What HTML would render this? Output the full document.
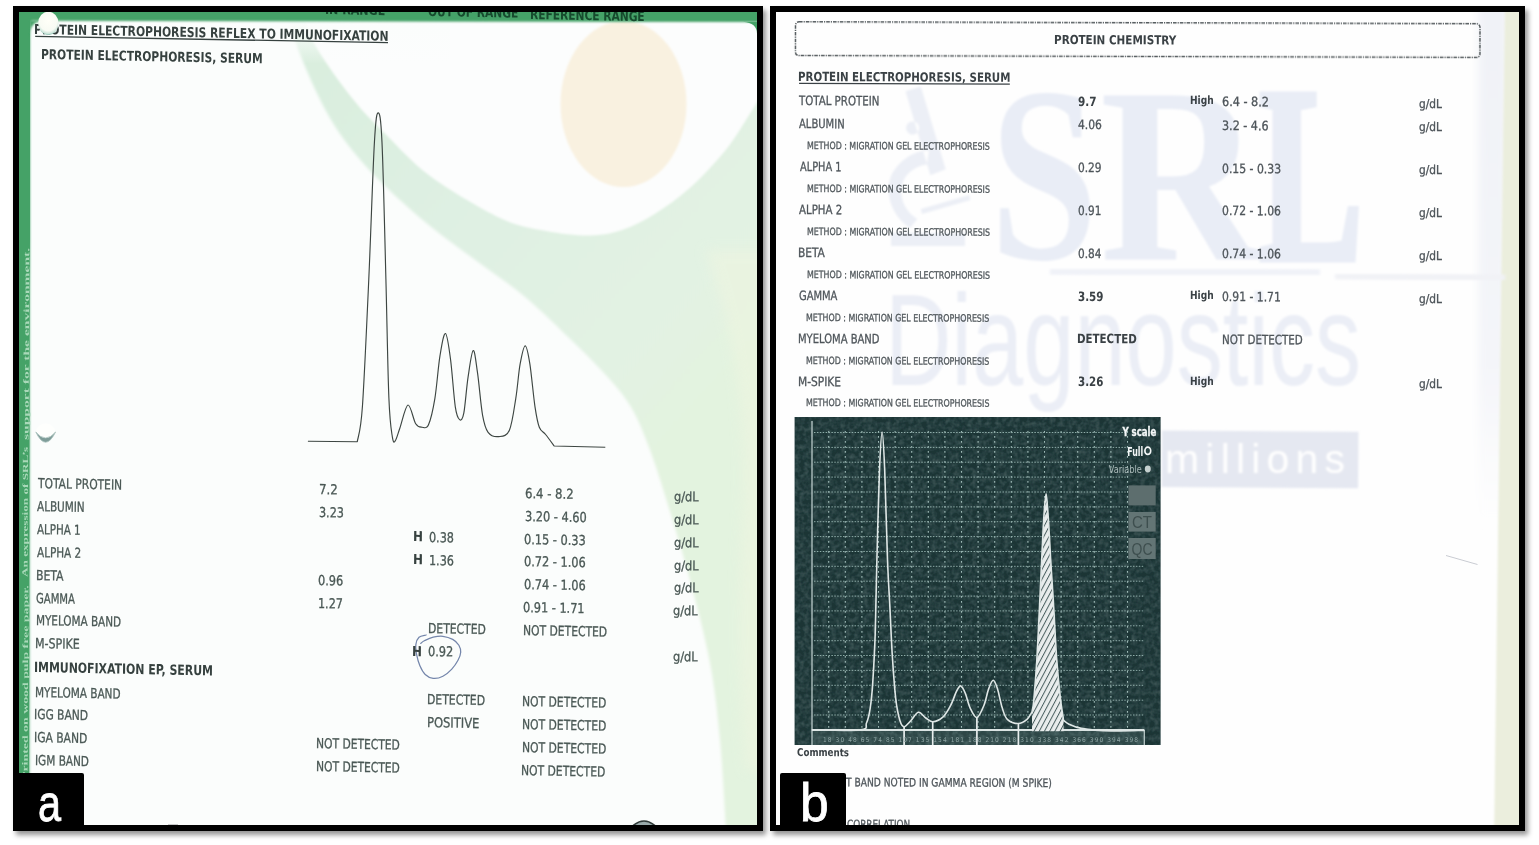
<!DOCTYPE html>
<html lang="en">
<head>
<meta charset="utf-8">
<title>Protein electrophoresis reports</title>
<style>
html,body{margin:0;padding:0;background:#fff}
body{width:1539px;height:845px;position:relative;overflow:hidden;font-family:"DejaVu Sans Condensed","DejaVu Sans","Liberation Sans",sans-serif}
.panel{position:absolute;top:6px;height:813px;border:6px solid #000;box-shadow:3px 4px 5px rgba(0,0,0,.42);overflow:hidden;background:#fbfdfc}
#pa{left:13px;width:738px}
#pb{left:770px;width:743px;background:#fefefe}
.page{position:absolute;width:1539px;height:845px;top:-12px}
#pa .page{left:-19px}
#pb .page{left:-776px}
.page svg{position:absolute;left:0;top:0}
.t{position:absolute;white-space:pre;line-height:1;transform-origin:0 0.846em;font-weight:normal;-webkit-text-stroke:.3px currentColor}
.b{font-weight:bold;-webkit-text-stroke:0}
.txt{position:absolute;left:0;top:0;width:100%;height:100%;filter:blur(.4px)}
.v{position:absolute;white-space:pre;line-height:1;font-family:"Liberation Serif",serif;font-weight:bold;color:#a9d9b9;transform-origin:0 0}
.lab{position:absolute;background:#000;color:#fff;font-family:"Liberation Sans",sans-serif;border-radius:2px}
.lab span{position:absolute;line-height:1;transform-origin:0 0}
</style>
</head>
<body>
<div class="panel" id="pa">
<div class="page">
<svg width="1539" height="845" viewBox="0 0 1539 845">
<defs>
<filter id="bl0" x="-10%" y="-10%" width="120%" height="120%"><feGaussianBlur stdDeviation="0.4"/></filter>
<filter id="bl1" x="-10%" y="-10%" width="120%" height="120%"><feGaussianBlur stdDeviation="0.8"/></filter>
<filter id="bl2" x="-10%" y="-10%" width="120%" height="120%"><feGaussianBlur stdDeviation="1.6"/></filter>
<filter id="bl3" x="-10%" y="-10%" width="120%" height="120%"><feGaussianBlur stdDeviation="3"/></filter>
<filter id="bl5" x="-20%" y="-20%" width="140%" height="140%"><feGaussianBlur stdDeviation="6"/></filter>
<linearGradient id="fade" x1="0" y1="0" x2="0" y2="1"><stop offset="0" stop-color="#fbfdfc"/><stop offset=".35" stop-color="#fbfdfc" stop-opacity=".85"/><stop offset="1" stop-color="#fbfdfc" stop-opacity="0"/></linearGradient>
<linearGradient id="gg" gradientUnits="userSpaceOnUse" x1="300" y1="60" x2="700" y2="420"><stop offset="0" stop-color="#d9eede"/><stop offset=".45" stop-color="#dff0e3"/><stop offset=".8" stop-color="#e2f2e3"/><stop offset="1" stop-color="#e3f3df"/></linearGradient>
</defs>
<rect x="0" y="0" width="1539" height="845" fill="#fbfdfc"/>
<path d="M285.0,5.0C287.5,13.2 293.2,36.3 300.0,54.0C306.8,71.7 317.3,95.0 326.0,111.0C334.7,127.0 342.0,137.3 352.0,150.0C362.0,162.7 373.0,174.3 386.0,187.0C399.0,199.7 414.7,213.5 430.0,226.0C445.3,238.5 462.3,250.3 478.0,262.0C493.7,273.7 509.2,283.7 524.0,296.0C538.8,308.3 553.8,323.3 567.0,336.0C580.2,348.7 592.3,360.2 603.0,372.0C613.7,383.8 623.2,394.0 631.0,407.0C638.8,420.0 643.8,433.7 650.0,450.0C656.2,466.3 661.3,483.3 668.0,505.0C674.7,526.7 683.0,553.7 690.0,580.0C697.0,606.3 705.0,636.3 710.0,663.0C715.0,689.7 717.3,712.2 720.0,740.0C722.7,767.8 725.0,815.0 726.0,830.0L775,830L775,0L285,0Z" fill="url(#gg)" filter="url(#bl2)"/>
<path d="M705,250 C735,330 748,420 742,520 C739,600 737,680 746,770 L775,770 L775,250Z" fill="#eff5e0" opacity=".55" filter="url(#bl5)"/>
<path d="M300.0,5.0C302.6,11.8 306.9,30.5 315.6,46.0C324.3,61.5 340.3,83.2 352.0,98.0C363.7,112.8 373.0,121.6 386.0,134.6C399.0,147.6 411.0,162.1 430.0,176.0C449.0,189.9 480.7,208.8 500.0,218.0C519.3,227.2 531.0,228.1 546.0,231.0C561.0,233.9 577.3,235.7 590.0,235.5C602.7,235.3 611.2,233.6 622.0,230.0C632.8,226.4 643.4,220.9 654.7,213.9C666.0,206.9 678.2,198.5 690.0,187.8C701.8,177.2 715.8,162.2 725.7,150.0C735.6,137.8 742.4,125.5 749.4,114.5C756.4,103.5 764.9,89.1 768.0,84.0L768,0L300,0Z" fill="#fcfdfd" filter="url(#bl1)"/>
<ellipse cx="623.5" cy="104" rx="63" ry="83" fill="#f9f1e0" filter="url(#bl1)"/>
<rect x="250" y="14" width="200" height="50" fill="url(#fade)"/>
<path d="M0,0H775V22.1L32,20.8Q30,20.8 30,27V845H0Z" fill="#45a267" filter="url(#bl1)"/>
<path d="M19,12H30V300L29.2,845H19Z" fill="#45a267"/>
<path d="M31.6,845L29.6,845L30.6,300L31.6,240Z" fill="#fbfdfc" filter="url(#bl1)"/>
<path d="M29.5,20.5h14q-14,1 -14,16z" fill="#45a267" filter="url(#bl1)"/>
<path d="M757,21.8h-14q14,1 14,12z" fill="#45a267"/>
<path d="M307.9,441.3L357.3,441.7C358.1,435.9 360.5,433.9 362.4,406.8C364.3,379.7 366.8,323.0 368.8,279.0C370.8,235.0 372.8,170.3 374.4,142.6C376.0,114.9 376.9,112.8 378.2,112.8C379.5,112.8 380.7,114.9 382.0,142.6C383.3,170.3 384.8,236.4 385.9,279.0C387.0,321.6 387.8,372.0 388.9,398.3C390.0,424.6 391.2,429.5 392.3,436.6C393.4,443.7 393.9,442.3 395.2,440.9C396.5,439.5 397.8,434.0 399.9,428.0C402.0,422.0 405.4,405.7 408.0,405.0C410.6,404.3 413.4,420.1 415.7,423.8C418.0,427.5 419.9,427.1 422.0,427.2C424.1,427.3 426.4,429.5 428.5,424.7C430.6,419.9 433.0,409.8 434.9,398.3C436.8,386.8 438.2,366.4 440.0,355.6C441.8,344.8 443.7,332.8 445.5,333.5C447.3,334.2 449.0,347.7 450.6,359.9C452.2,372.1 453.8,396.9 455.3,406.8C456.8,416.8 458.2,418.5 459.6,419.6C461.0,420.7 462.4,420.3 463.8,413.2C465.2,406.1 466.5,387.3 468.1,376.9C469.7,366.4 471.6,351.2 473.2,350.5C474.8,349.8 475.9,361.9 477.5,372.7C479.1,383.5 480.8,405.4 482.6,415.3C484.4,425.2 485.4,428.8 488.1,432.3C490.8,435.9 495.2,437.0 498.8,436.6C502.4,436.2 506.6,436.6 509.4,430.2C512.2,423.8 514.0,409.3 515.8,398.3C517.6,387.3 518.5,372.9 520.1,364.2C521.7,355.4 523.6,345.8 525.2,345.8C526.8,345.8 528.3,354.0 529.9,364.2C531.5,374.4 533.4,396.3 535.0,406.8C536.6,417.3 537.5,422.6 539.3,427.2C541.1,431.8 543.1,431.4 545.6,434.5C548.1,437.6 552.8,444.1 554.2,446.0L605.3,447.2" fill="none" stroke="#3d4642" stroke-width="1.15" stroke-linejoin="round"/>
<path d="M35.2,36.3L388,42.6" stroke="#36413f" stroke-width="1.3" fill="none"/>
<path d="M426.1,635.0C424.9,635.4 420.7,635.7 419.0,637.2C417.3,638.8 416.3,641.3 415.9,644.3C415.5,647.2 416.0,651.3 416.7,654.9C417.4,658.5 418.4,662.3 419.8,665.6C421.2,668.9 423.0,672.4 425.2,674.5C427.4,676.6 430.2,678.1 433.2,678.4C436.1,678.7 439.8,677.8 442.9,676.2C446.0,674.7 449.3,671.8 451.8,669.1C454.3,666.5 456.5,663.1 458.0,660.3C459.5,657.5 460.6,654.8 460.7,652.3C460.8,649.8 460.2,647.4 458.9,645.2C457.6,643.1 455.4,640.9 452.7,639.4C450.0,637.9 446.1,636.7 442.9,636.3C439.6,635.9 436.3,636.5 433.2,637.2C430.1,637.9 426.4,639.7 424.3,640.7C422.2,641.7 421.3,643.0 420.7,643.4" fill="none" stroke="#7486ab" stroke-width="1.25" stroke-linecap="round" filter="url(#bl0)"/>
<path d="M149,825.6h14M168,825.4h10M186,825.7h26" stroke="#333" stroke-width="1.2"/>
<path d="M631.5,827Q644,815 656.5,827" fill="#9aa" stroke="#2f3a38" stroke-width="1.6"/>
</svg>
<span class="v" style="left:21.0px;top:780.2px;font-size:9.6px;transform:matrix(0.0058,-1.4431,0.82,0,0,0)">Printed on wood pulp free paper.</span>
<span class="v" style="left:21.4px;top:577.0px;font-size:9.6px;transform:matrix(0.0055,-1.3730,0.82,0,0,0)">An expression of SRL&#8217;s</span>
<span class="v" style="left:21.7px;top:439.5px;font-size:9.6px;transform:matrix(0.0065,-1.6218,0.82,0,0,0)">support for the environment.</span>
<div class="txt">
<span class="t b" style="left:34.2px;top:22.7px;font-size:13.68px;transform:matrix(0.8753,0.01707,-0.009,1,0,0);color:#36413f">PROTEIN ELECTROPHORESIS REFLEX TO IMMUNOFIXATION</span>
<span class="t b" style="left:40.9px;top:47.7px;font-size:13.68px;transform:matrix(0.8697,0.01696,-0.009,1,0,0);color:#36413f">PROTEIN ELECTROPHORESIS, SERUM</span>
<span class="t" style="left:37.5px;top:477.3px;font-size:13.77px;transform:matrix(0.8645,0.01686,-0.009,1,0,0);color:#4a5855">TOTAL PROTEIN</span>
<span class="t" style="left:37.4px;top:500.1px;font-size:13.77px;transform:matrix(0.8429,0.01644,-0.009,1,0,0);color:#4a5855">ALBUMIN</span>
<span class="t" style="left:37.0px;top:523.0px;font-size:13.77px;transform:matrix(0.8302,0.01619,-0.009,1,0,0);color:#4a5855">ALPHA 1</span>
<span class="t" style="left:36.9px;top:545.8px;font-size:13.77px;transform:matrix(0.8419,0.01642,-0.009,1,0,0);color:#4a5855">ALPHA 2</span>
<span class="t" style="left:35.6px;top:568.6px;font-size:13.77px;transform:matrix(0.8765,0.01709,-0.009,1,0,0);color:#4a5855">BETA</span>
<span class="t" style="left:35.8px;top:591.5px;font-size:13.77px;transform:matrix(0.8120,0.01583,-0.009,1,0,0);color:#4a5855">GAMMA</span>
<span class="t" style="left:35.5px;top:614.3px;font-size:13.77px;transform:matrix(0.8411,0.01640,-0.009,1,0,0);color:#4a5855">MYELOMA BAND</span>
<span class="t" style="left:35.0px;top:637.2px;font-size:13.77px;transform:matrix(0.8918,0.01739,-0.009,1,0,0);color:#4a5855">M-SPIKE</span>
<span class="t b" style="left:34.4px;top:660.1px;font-size:14.04px;transform:matrix(0.8653,0.01687,-0.009,1,0,0);color:#36413f">IMMUNOFIXATION EP, SERUM</span>
<span class="t" style="left:34.5px;top:685.5px;font-size:13.77px;transform:matrix(0.8461,0.01650,-0.009,1,0,0);color:#4a5855">MYELOMA BAND</span>
<span class="t" style="left:34.4px;top:708.4px;font-size:13.77px;transform:matrix(0.8628,0.01682,-0.009,1,0,0);color:#4a5855">IGG BAND</span>
<span class="t" style="left:34.4px;top:731.3px;font-size:13.77px;transform:matrix(0.8674,0.01691,-0.009,1,0,0);color:#4a5855">IGA BAND</span>
<span class="t" style="left:34.5px;top:754.1px;font-size:13.77px;transform:matrix(0.8476,0.01653,-0.009,1,0,0);color:#4a5855">IGM BAND</span>
<span class="t" style="left:319.3px;top:482.8px;font-size:13.77px;transform:matrix(0.9490,0.01851,-0.009,1,0,0);color:#4a5855">7.2</span>
<span class="t" style="left:319.0px;top:505.6px;font-size:13.77px;transform:matrix(0.9000,0.01755,-0.009,1,0,0);color:#4a5855">3.23</span>
<span class="t" style="left:318.1px;top:574.1px;font-size:13.77px;transform:matrix(0.9134,0.01781,-0.009,1,0,0);color:#4a5855">0.96</span>
<span class="t" style="left:318.1px;top:597.0px;font-size:13.77px;transform:matrix(0.8998,0.01755,-0.009,1,0,0);color:#4a5855">1.27</span>
<span class="t" style="left:316.2px;top:736.8px;font-size:13.77px;transform:matrix(0.8650,0.01687,-0.009,1,0,0);color:#4a5855">NOT DETECTED</span>
<span class="t" style="left:316.0px;top:759.6px;font-size:13.77px;transform:matrix(0.8650,0.01687,-0.009,1,0,0);color:#4a5855">NOT DETECTED</span>
<span class="t b" style="left:413.3px;top:530.3px;font-size:13.77px;transform:matrix(0.9562,0.01865,-0.009,1,0,0);color:#36413f">H</span>
<span class="t" style="left:429.2px;top:530.6px;font-size:13.77px;transform:matrix(0.9020,0.01759,-0.009,1,0,0);color:#4a5855">0.38</span>
<span class="t b" style="left:413.1px;top:553.2px;font-size:13.77px;transform:matrix(0.9562,0.01865,-0.009,1,0,0);color:#36413f">H</span>
<span class="t" style="left:429.2px;top:553.5px;font-size:13.77px;transform:matrix(0.9018,0.01759,-0.009,1,0,0);color:#4a5855">1.36</span>
<span class="t" style="left:428.0px;top:622.0px;font-size:13.77px;transform:matrix(0.8711,0.01699,-0.009,1,0,0);color:#4a5855">DETECTED</span>
<span class="t b" style="left:412.0px;top:644.5px;font-size:13.77px;transform:matrix(0.9562,0.01865,-0.009,1,0,0);color:#36413f">H</span>
<span class="t" style="left:427.9px;top:644.8px;font-size:13.77px;transform:matrix(0.9164,0.01787,-0.009,1,0,0);color:#4a5855">0.92</span>
<span class="t" style="left:427.0px;top:693.2px;font-size:13.77px;transform:matrix(0.8742,0.01705,-0.009,1,0,0);color:#4a5855">DETECTED</span>
<span class="t" style="left:426.8px;top:716.0px;font-size:13.77px;transform:matrix(0.9306,0.01815,-0.009,1,0,0);color:#4a5855">POSITIVE</span>
<span class="t" style="left:524.6px;top:486.8px;font-size:13.77px;transform:matrix(0.9404,0.01834,-0.009,1,0,0);color:#4a5855">6.4 - 8.2</span>
<span class="t" style="left:524.6px;top:509.6px;font-size:13.77px;transform:matrix(0.9130,0.01780,-0.009,1,0,0);color:#4a5855">3.20 - 4.60</span>
<span class="t" style="left:524.1px;top:532.5px;font-size:13.77px;transform:matrix(0.9160,0.01786,-0.009,1,0,0);color:#4a5855">0.15 - 0.33</span>
<span class="t" style="left:523.8px;top:555.3px;font-size:13.77px;transform:matrix(0.9141,0.01782,-0.009,1,0,0);color:#4a5855">0.72 - 1.06</span>
<span class="t" style="left:523.6px;top:578.2px;font-size:13.77px;transform:matrix(0.9141,0.01782,-0.009,1,0,0);color:#4a5855">0.74 - 1.06</span>
<span class="t" style="left:523.3px;top:601.0px;font-size:13.77px;transform:matrix(0.9122,0.01779,-0.009,1,0,0);color:#4a5855">0.91 - 1.71</span>
<span class="t" style="left:523.2px;top:623.9px;font-size:13.77px;transform:matrix(0.8682,0.01693,-0.009,1,0,0);color:#4a5855">NOT DETECTED</span>
<span class="t" style="left:522.0px;top:695.0px;font-size:13.77px;transform:matrix(0.8703,0.01697,-0.009,1,0,0);color:#4a5855">NOT DETECTED</span>
<span class="t" style="left:521.8px;top:717.9px;font-size:13.77px;transform:matrix(0.8703,0.01697,-0.009,1,0,0);color:#4a5855">NOT DETECTED</span>
<span class="t" style="left:521.6px;top:740.8px;font-size:13.77px;transform:matrix(0.8703,0.01697,-0.009,1,0,0);color:#4a5855">NOT DETECTED</span>
<span class="t" style="left:521.4px;top:763.6px;font-size:13.77px;transform:matrix(0.8703,0.01697,-0.009,1,0,0);color:#4a5855">NOT DETECTED</span>
<span class="t" style="left:674.3px;top:489.9px;font-size:13.14px;transform:matrix(0.9584,0.01869,-0.009,1,0,0);color:#4a5855">g/dL</span>
<span class="t" style="left:674.1px;top:512.8px;font-size:13.14px;transform:matrix(0.9584,0.01869,-0.009,1,0,0);color:#4a5855">g/dL</span>
<span class="t" style="left:673.9px;top:535.6px;font-size:13.14px;transform:matrix(0.9584,0.01869,-0.009,1,0,0);color:#4a5855">g/dL</span>
<span class="t" style="left:673.7px;top:558.5px;font-size:13.14px;transform:matrix(0.9584,0.01869,-0.009,1,0,0);color:#4a5855">g/dL</span>
<span class="t" style="left:673.5px;top:581.3px;font-size:13.14px;transform:matrix(0.9584,0.01869,-0.009,1,0,0);color:#4a5855">g/dL</span>
<span class="t" style="left:673.3px;top:604.2px;font-size:13.14px;transform:matrix(0.9584,0.01869,-0.009,1,0,0);color:#4a5855">g/dL</span>
<span class="t" style="left:672.9px;top:649.8px;font-size:13.14px;transform:matrix(0.9584,0.01869,-0.009,1,0,0);color:#4a5855">g/dL</span>
<span class="t b" style="left:324.5px;top:3.0px;font-size:13.68px;transform:matrix(0.9001,0.01755,-0.009,1,0,0);color:#164a2d">IN RANGE</span>
<span class="t b" style="left:427.5px;top:5.3px;font-size:13.68px;transform:matrix(0.8669,0.01690,-0.009,1,0,0);color:#164a2d">OUT OF RANGE</span>
<span class="t b" style="left:530.1px;top:7.6px;font-size:13.68px;transform:matrix(0.8662,0.01689,-0.009,1,0,0);color:#164a2d">REFERENCE RANGE</span>
</div>
<svg width="1539" height="845" viewBox="0 0 1539 845">
<defs>
<radialGradient id="hole" cx="50%" cy="38%" r="62%"><stop offset="0" stop-color="#fffff8"/><stop offset=".72" stop-color="#f8fbf4"/><stop offset=".9" stop-color="#cfe6dc"/><stop offset="1" stop-color="#8fc3b4"/></radialGradient>
<filter id="hb" x="-20%" y="-20%" width="140%" height="140%"><feGaussianBlur stdDeviation="0.7"/></filter>
</defs>
<ellipse cx="48.3" cy="23.3" rx="10.2" ry="11.6" fill="url(#hole)" filter="url(#hb)"/>
<ellipse cx="45.6" cy="432" rx="9.6" ry="8.5" fill="#fefffd" filter="url(#hb)"/>
<path d="M35.8,432Q45.5,452.5 55.6,432Q45.5,444 35.8,432Z" fill="#7f9d99" stroke="#a9c1bc" stroke-width=".8" filter="url(#hb)"/>
</svg>
</div>
<div class="lab" style="left:-6px;top:761px;width:71px;height:60px"><span style="left:25.3px;top:6.2px;font-size:50.9px;transform:scaleX(.814);-webkit-text-stroke:.8px #fff">a</span></div>
</div>

<div class="panel" id="pb">
<div class="page">
<svg width="1539" height="845" viewBox="0 0 1539 845">
<defs>
<filter id="rb1" x="-10%" y="-10%" width="120%" height="120%"><feGaussianBlur stdDeviation="1.2"/></filter>
<filter id="rb0" x="-5%" y="-5%" width="110%" height="110%"><feGaussianBlur stdDeviation="0.5"/></filter>
<filter id="noise" x="0" y="0" width="100%" height="100%"><feTurbulence type="fractalNoise" baseFrequency="0.22" numOctaves="2" seed="7" result="n"/><feColorMatrix in="n" type="matrix" values="0 0 0 0 0.40  0 0 0 0 0.54  0 0 0 0 0.53  0 0 0 1.5 -0.5"/><feComposite operator="in" in2="SourceGraphic"/></filter>
<linearGradient id="lav" x1="0" y1="0" x2="0" y2="1"><stop offset="0" stop-color="#f0f2f7"/><stop offset=".7" stop-color="#f4f5f9"/><stop offset="1" stop-color="#fefefe"/></linearGradient>
<filter id="rb2" x="-50%" y="-5%" width="200%" height="110%"><feGaussianBlur stdDeviation="4"/></filter>
<pattern id="hatch" width="4.6" height="4.6" patternUnits="userSpaceOnUse" patternTransform="rotate(-62)"><rect width="4.6" height="4.6" fill="#e9eded"/><rect width="4.6" height="1" fill="#4a6060"/></pattern>
</defs>
<rect x="770" y="0" width="770" height="845" fill="#fefefe"/>
<rect x="1478" y="0" width="30" height="520" fill="url(#lav)" filter="url(#rb2)"/>
<path d="M1505,0H1530V845H1494Z" fill="#ebeedd" filter="url(#rb1)"/>
<g filter="url(#rb1)" fill="#e9edf6">
<rect x="1162" y="430.5" width="196.5" height="56.5" fill="#e5e8f1" transform="rotate(0.4 1162 430)"/>
<text y="259" font-family="Liberation Serif, serif" font-weight="bold" font-size="251"><tspan x="990" textLength="108" lengthAdjust="spacingAndGlyphs">S</tspan><tspan x="1100" textLength="162" lengthAdjust="spacingAndGlyphs">R</tspan><tspan x="1259" textLength="104" lengthAdjust="spacingAndGlyphs" stroke="#e9edf6" stroke-width="7">L</tspan></text>
<text x="885" y="385" font-family="Liberation Sans, sans-serif" font-size="129" textLength="476" lengthAdjust="spacingAndGlyphs" fill="#ebeef6">Diagnostics</text>
<text x="1165" y="473.3" font-family="Liberation Sans, sans-serif" font-size="41" textLength="180" lengthAdjust="spacing" fill="#fefefe">millions</text>
<path d="M905.5,91.3L920.8,86.6L945.7,169.3L930.3,175.2Z M929,150.4C915,150 898.4,159.9 891,176C884,195 893,217 910.2,228L917.3,219C906,212 899,199 902,185C905,173 916,166 926.8,164.6Z M920.8,209L969.3,195L970.5,200L922,214Z M891,233H965V246H891Z M912.6,121.5a6.5,6.5 0 1 0 0.01,0Z" fill="#eceff6"/>
<path d="M1050,270L1320,274" stroke="#f0f2f8" stroke-width="11" filter="url(#rb1)"/>
<path d="M1335,275L1505,279" stroke="#f1f2f6" stroke-width="9" filter="url(#rb1)"/>
</g>
<path d="M1446,555.5L1477.5,564.5" stroke="#c9ccd2" stroke-width="1" filter="url(#rb0)"/>
<rect x="795.5" y="21.8" width="684.5" height="33.8" rx="3.5" fill="none" stroke="#555b5e" stroke-width="1.5" stroke-dasharray="3.6 1 1.2 1" transform="rotate(0.16 795 22)" filter="url(#rb0)"/>
<path d="M799.1,83.3L1009.8,84.1" stroke="#3a4145" stroke-width="1.3"/>
<g filter="url(#rb0)">
<rect x="794.6" y="417" width="366" height="328" fill="#1b3435"/>
<rect x="812" y="730" width="332" height="15" fill="#2d4747"/>
<rect x="794.6" y="417" width="366" height="328" fill="#5f7f7c" filter="url(#noise)" opacity=".28"/>
<g stroke="#a0bcb8" stroke-width="1.1" stroke-dasharray="1.8 3.2" fill="none"><line x1="828.7" y1="431" x2="828.7" y2="729"/><line x1="845.3" y1="431" x2="845.3" y2="729"/><line x1="861.9" y1="431" x2="861.9" y2="729"/><line x1="878.5" y1="431" x2="878.5" y2="729"/><line x1="895.1" y1="431" x2="895.1" y2="729"/><line x1="911.7" y1="431" x2="911.7" y2="729"/><line x1="928.3" y1="431" x2="928.3" y2="729"/><line x1="944.9" y1="431" x2="944.9" y2="729"/><line x1="961.5" y1="431" x2="961.5" y2="729"/><line x1="978.1" y1="431" x2="978.1" y2="729"/><line x1="994.7" y1="431" x2="994.7" y2="729"/><line x1="1011.3" y1="431" x2="1011.3" y2="729"/><line x1="1027.9" y1="431" x2="1027.9" y2="729"/><line x1="1044.5" y1="431" x2="1044.5" y2="729"/><line x1="1061.1" y1="431" x2="1061.1" y2="729"/><line x1="1077.7" y1="431" x2="1077.7" y2="729"/><line x1="1094.3" y1="431" x2="1094.3" y2="729"/><line x1="1110.9" y1="431" x2="1110.9" y2="729"/><line x1="1127.5" y1="431" x2="1127.5" y2="729"/></g>
<g stroke="#8eaca8" stroke-width="1" stroke-dasharray="1.5 1.4" fill="none"><line x1="814" y1="432.5" x2="1128" y2="432.5"/><line x1="814" y1="447.4" x2="1128" y2="447.4"/><line x1="814" y1="462.2" x2="1128" y2="462.2"/><line x1="814" y1="477.1" x2="1128" y2="477.1"/><line x1="814" y1="492.0" x2="1128" y2="492.0"/><line x1="814" y1="506.9" x2="1128" y2="506.9"/><line x1="814" y1="521.7" x2="1128" y2="521.7"/><line x1="814" y1="536.6" x2="1128" y2="536.6"/><line x1="814" y1="551.5" x2="1128" y2="551.5"/><line x1="814" y1="566.3" x2="1144" y2="566.3"/><line x1="814" y1="581.2" x2="1144" y2="581.2"/><line x1="814" y1="596.1" x2="1144" y2="596.1"/><line x1="814" y1="610.9" x2="1144" y2="610.9"/><line x1="814" y1="625.8" x2="1144" y2="625.8"/><line x1="814" y1="640.7" x2="1144" y2="640.7"/><line x1="814" y1="655.5" x2="1144" y2="655.5"/><line x1="814" y1="670.4" x2="1144" y2="670.4"/><line x1="814" y1="685.3" x2="1144" y2="685.3"/><line x1="814" y1="700.2" x2="1144" y2="700.2"/><line x1="814" y1="715.0" x2="1144" y2="715.0"/></g>
<path d="M812,421V745M1144.3,730V745" stroke="#b9c9c8" stroke-width="1.3" fill="none"/>
<path d="M812,730H1144.3" stroke="#dbe4e3" stroke-width="1.8" fill="none"/>
<path d="M904.1,726V745M932.7,721V745M976.9,717V745M1018.4,723V745" stroke="#e8eeee" stroke-width="1.7" fill="none"/>
<path d="M1032.0,712.0C1032.3,710.0 1033.0,708.8 1033.8,700.0C1034.6,691.2 1036.0,674.2 1036.9,659.0C1037.8,643.8 1038.6,625.5 1039.4,609.0C1040.2,592.5 1041.0,575.2 1041.7,560.0C1042.4,544.8 1043.1,529.0 1043.8,518.0C1044.5,507.0 1045.3,493.8 1046.1,493.8C1046.8,493.8 1047.5,507.0 1048.3,518.0C1049.1,529.0 1049.8,544.8 1050.7,560.0C1051.6,575.2 1052.8,592.5 1053.8,609.0C1054.8,625.5 1055.6,644.1 1056.7,659.0C1057.8,673.9 1059.2,688.0 1060.4,698.3C1061.6,708.5 1063.1,716.8 1063.6,720.5L1063.6,731.2L1032,731.2Z" fill="url(#hatch)"/>
<path d="M811.7,729.9C819.8,729.9 851.3,731.0 860.4,729.9C869.5,728.8 864.9,726.6 866.5,723.0C868.1,719.4 869.2,714.7 870.2,708.1C871.2,701.5 871.9,695.9 872.7,683.5C873.5,671.1 874.5,654.6 875.2,634.0C875.9,613.4 876.2,587.3 876.9,560.0C877.6,532.7 878.6,491.3 879.5,470.0C880.4,448.7 881.2,432.0 882.1,432.0C883.0,432.0 883.8,448.7 884.7,470.0C885.6,491.3 886.6,536.8 887.5,560.0C888.4,583.2 889.2,592.9 890.0,609.4C890.8,625.9 891.5,644.0 892.5,658.8C893.5,673.6 894.5,688.0 895.7,698.3C896.9,708.6 898.5,715.8 899.9,720.5C901.3,725.2 902.2,726.7 904.1,726.7C906.0,726.7 908.6,722.9 911.0,720.5C913.4,718.1 915.9,712.7 918.4,712.3C920.9,711.9 923.4,716.4 925.8,718.0C928.2,719.6 929.8,721.9 932.7,721.7C935.6,721.5 940.1,719.5 943.1,716.8C946.1,714.1 948.2,710.0 950.5,705.7C952.8,701.4 955.0,694.2 956.7,690.9C958.4,687.6 959.5,685.5 960.9,685.9C962.3,686.3 963.8,689.6 965.3,693.3C966.8,697.0 968.3,704.1 970.2,708.1C972.1,712.1 974.6,717.9 976.9,717.5C979.2,717.1 981.8,710.6 983.8,705.7C985.8,700.9 987.2,692.6 988.8,688.4C990.4,684.1 991.8,680.2 993.2,680.2C994.6,680.2 995.9,683.8 997.4,688.4C998.9,693.0 1000.6,703.0 1002.3,708.1C1003.9,713.2 1004.6,716.7 1007.3,719.3C1010.0,721.9 1015.1,723.5 1018.4,723.5C1021.7,723.5 1024.7,721.2 1027.0,719.3C1029.3,717.4 1031.2,713.2 1032.0,712.0C1032.3,710.0 1033.0,708.8 1033.8,700.0C1034.6,691.2 1036.0,674.2 1036.9,659.0C1037.8,643.8 1038.6,625.5 1039.4,609.0C1040.2,592.5 1041.0,575.2 1041.7,560.0C1042.4,544.8 1043.1,529.0 1043.8,518.0C1044.5,507.0 1045.3,493.8 1046.1,493.8C1046.8,493.8 1047.5,507.0 1048.3,518.0C1049.1,529.0 1049.8,544.8 1050.7,560.0C1051.6,575.2 1052.8,592.5 1053.8,609.0C1054.8,625.5 1055.6,644.1 1056.7,659.0C1057.8,673.9 1059.2,688.0 1060.4,698.3C1061.6,708.5 1063.1,716.8 1063.6,720.5C1064.5,721.1 1066.0,722.9 1069.0,724.2C1072.0,725.5 1074.4,727.3 1081.4,728.4C1088.4,729.5 1100.5,730.6 1111.0,730.9C1121.5,731.2 1138.8,730.5 1144.3,730.4" fill="none" stroke="#dfe7e6" stroke-width="1.6" stroke-linejoin="round"/>
<rect x="1128.4" y="485.4" width="27.3" height="20" fill="#5d6e6e"/>
<rect x="1128.4" y="512" width="27.3" height="19.6" fill="#647474"/>
<rect x="1128.4" y="538" width="27.3" height="21" fill="#647474"/>
<g font-family="Liberation Sans, sans-serif">
<text x="1122.4" y="435.9" font-size="12.6" font-weight="bold" fill="#f4f7f7" stroke="#f4f7f7" stroke-width=".3" textLength="34" lengthAdjust="spacingAndGlyphs" font-family="DejaVu Sans Condensed, Liberation Sans, sans-serif">Y scale</text>
<text x="1127.2" y="455.5" font-size="12.5" font-weight="bold" fill="#f4f7f7" textLength="16" lengthAdjust="spacingAndGlyphs" font-family="DejaVu Sans Condensed, Liberation Sans, sans-serif">Full</text>
<ellipse cx="1147.8" cy="450.8" rx="2.9" ry="3.6" fill="none" stroke="#f4f7f7" stroke-width="1.7"/>
<text x="1108.8" y="472.8" font-size="10.5" fill="#a9b9b8" textLength="33" lengthAdjust="spacingAndGlyphs" font-family="DejaVu Sans Condensed, Liberation Sans, sans-serif">Variable</text>
<ellipse cx="1147.8" cy="469" rx="3" ry="3.4" fill="#c5d0cf"/>
<text x="1132" y="528" font-size="16" fill="#3e4f4f" textLength="20" lengthAdjust="spacingAndGlyphs">CT</text>
<text x="1131.5" y="554.5" font-size="16" fill="#3e4f4f" textLength="21" lengthAdjust="spacingAndGlyphs">QC</text>
<text x="823" y="741.8" font-size="6.5" fill="#8fa5a4" textLength="315" lengthAdjust="spacing" font-family="DejaVu Sans Condensed, Liberation Sans, sans-serif">18 30 48 65 74 85 107 135 154 181 188 210 218 310 338 342 366 390 394 398</text>
</g>
</g>
</svg>
<div class="txt">
<span class="t b" style="left:1053.6px;top:33.6px;font-size:12.51px;transform:matrix(0.9263,0.00343,-0.002,1,0,0);color:#3a4145">PROTEIN CHEMISTRY</span>
<span class="t b" style="left:798.2px;top:71.2px;font-size:12.6px;transform:matrix(0.9051,0.00335,-0.002,1,0,0);color:#3a4145">PROTEIN ELECTROPHORESIS, SERUM</span>
<span class="t" style="left:799.4px;top:94.8px;font-size:12.86px;transform:matrix(0.8845,0.00327,-0.002,1,0,0);color:#4e555a">TOTAL PROTEIN</span>
<span class="t" style="left:799.3px;top:118.4px;font-size:12.86px;transform:matrix(0.8639,0.00320,-0.002,1,0,0);color:#4e555a">ALBUMIN</span>
<span class="t" style="left:799.8px;top:161.3px;font-size:12.86px;transform:matrix(0.8451,0.00313,-0.002,1,0,0);color:#4e555a">ALPHA 1</span>
<span class="t" style="left:799.1px;top:204.1px;font-size:12.86px;transform:matrix(0.8806,0.00326,-0.002,1,0,0);color:#4e555a">ALPHA 2</span>
<span class="t" style="left:798.4px;top:247.0px;font-size:12.86px;transform:matrix(0.9208,0.00341,-0.002,1,0,0);color:#4e555a">BETA</span>
<span class="t" style="left:798.7px;top:289.8px;font-size:12.86px;transform:matrix(0.8581,0.00318,-0.002,1,0,0);color:#4e555a">GAMMA</span>
<span class="t" style="left:798.4px;top:332.7px;font-size:12.86px;transform:matrix(0.8628,0.00319,-0.002,1,0,0);color:#4e555a">MYELOMA BAND</span>
<span class="t" style="left:797.9px;top:375.5px;font-size:12.86px;transform:matrix(0.9194,0.00340,-0.002,1,0,0);color:#4e555a">M-SPIKE</span>
<span class="t" style="left:806.9px;top:141.3px;font-size:9.97px;transform:matrix(0.8768,0.00324,-0.002,1,0,0);color:#535a5e">METHOD : MIGRATION GEL ELECTROPHORESIS</span>
<span class="t" style="left:806.8px;top:184.1px;font-size:9.97px;transform:matrix(0.8773,0.00325,-0.002,1,0,0);color:#535a5e">METHOD : MIGRATION GEL ELECTROPHORESIS</span>
<span class="t" style="left:806.7px;top:227.0px;font-size:9.97px;transform:matrix(0.8777,0.00325,-0.002,1,0,0);color:#535a5e">METHOD : MIGRATION GEL ELECTROPHORESIS</span>
<span class="t" style="left:806.5px;top:269.8px;font-size:9.97px;transform:matrix(0.8782,0.00325,-0.002,1,0,0);color:#535a5e">METHOD : MIGRATION GEL ELECTROPHORESIS</span>
<span class="t" style="left:806.4px;top:312.7px;font-size:9.97px;transform:matrix(0.8786,0.00325,-0.002,1,0,0);color:#535a5e">METHOD : MIGRATION GEL ELECTROPHORESIS</span>
<span class="t" style="left:806.3px;top:355.5px;font-size:9.97px;transform:matrix(0.8790,0.00325,-0.002,1,0,0);color:#535a5e">METHOD : MIGRATION GEL ELECTROPHORESIS</span>
<span class="t" style="left:806.2px;top:398.4px;font-size:9.97px;transform:matrix(0.8795,0.00325,-0.002,1,0,0);color:#535a5e">METHOD : MIGRATION GEL ELECTROPHORESIS</span>
<span class="t b" style="left:1077.7px;top:95.6px;font-size:12.86px;transform:matrix(0.9042,0.00335,-0.002,1,0,0);color:#3a4145">9.7</span>
<span class="t" style="left:1077.7px;top:119.2px;font-size:12.86px;transform:matrix(0.9282,0.00343,-0.002,1,0,0);color:#4e555a">4.06</span>
<span class="t" style="left:1077.6px;top:162.0px;font-size:12.86px;transform:matrix(0.9174,0.00339,-0.002,1,0,0);color:#4e555a">0.29</span>
<span class="t" style="left:1077.6px;top:204.9px;font-size:12.86px;transform:matrix(0.9064,0.00335,-0.002,1,0,0);color:#4e555a">0.91</span>
<span class="t" style="left:1077.6px;top:247.7px;font-size:12.86px;transform:matrix(0.9078,0.00336,-0.002,1,0,0);color:#4e555a">0.84</span>
<span class="t b" style="left:1077.5px;top:290.6px;font-size:12.86px;transform:matrix(0.8908,0.00330,-0.002,1,0,0);color:#3a4145">3.59</span>
<span class="t b" style="left:1077.3px;top:333.4px;font-size:12.86px;transform:matrix(0.8889,0.00329,-0.002,1,0,0);color:#3a4145">DETECTED</span>
<span class="t b" style="left:1077.5px;top:376.3px;font-size:12.86px;transform:matrix(0.8866,0.00328,-0.002,1,0,0);color:#3a4145">3.26</span>
<span class="t b" style="left:1190.2px;top:94.8px;font-size:11.38px;transform:matrix(0.8847,0.00327,-0.002,1,0,0);color:#3a4145">High</span>
<span class="t b" style="left:1190.2px;top:289.8px;font-size:11.38px;transform:matrix(0.8847,0.00327,-0.002,1,0,0);color:#3a4145">High</span>
<span class="t b" style="left:1190.2px;top:375.5px;font-size:11.38px;transform:matrix(0.8847,0.00327,-0.002,1,0,0);color:#3a4145">High</span>
<span class="t" style="left:1222.0px;top:96.1px;font-size:12.86px;transform:matrix(0.9725,0.00360,-0.002,1,0,0);color:#4e555a">6.4 - 8.2</span>
<span class="t" style="left:1222.1px;top:119.7px;font-size:12.86px;transform:matrix(0.9645,0.00357,-0.002,1,0,0);color:#4e555a">3.2 - 4.6</span>
<span class="t" style="left:1222.2px;top:162.5px;font-size:12.86px;transform:matrix(0.9370,0.00347,-0.002,1,0,0);color:#4e555a">0.15 - 0.33</span>
<span class="t" style="left:1222.2px;top:205.4px;font-size:12.86px;transform:matrix(0.9350,0.00346,-0.002,1,0,0);color:#4e555a">0.72 - 1.06</span>
<span class="t" style="left:1222.2px;top:248.2px;font-size:12.86px;transform:matrix(0.9350,0.00346,-0.002,1,0,0);color:#4e555a">0.74 - 1.06</span>
<span class="t" style="left:1222.2px;top:291.1px;font-size:12.86px;transform:matrix(0.9327,0.00345,-0.002,1,0,0);color:#4e555a">0.91 - 1.71</span>
<span class="t" style="left:1221.9px;top:333.9px;font-size:12.86px;transform:matrix(0.8936,0.00331,-0.002,1,0,0);color:#4e555a">NOT DETECTED</span>
<span class="t" style="left:1418.8px;top:97.6px;font-size:12.25px;transform:matrix(0.9638,0.00357,-0.002,1,0,0);color:#4e555a">g/dL</span>
<span class="t" style="left:1418.8px;top:121.2px;font-size:12.25px;transform:matrix(0.9638,0.00357,-0.002,1,0,0);color:#4e555a">g/dL</span>
<span class="t" style="left:1418.8px;top:164.1px;font-size:12.25px;transform:matrix(0.9638,0.00357,-0.002,1,0,0);color:#4e555a">g/dL</span>
<span class="t" style="left:1418.8px;top:206.9px;font-size:12.25px;transform:matrix(0.9638,0.00357,-0.002,1,0,0);color:#4e555a">g/dL</span>
<span class="t" style="left:1418.8px;top:249.8px;font-size:12.25px;transform:matrix(0.9638,0.00357,-0.002,1,0,0);color:#4e555a">g/dL</span>
<span class="t" style="left:1418.8px;top:292.6px;font-size:12.25px;transform:matrix(0.9638,0.00357,-0.002,1,0,0);color:#4e555a">g/dL</span>
<span class="t" style="left:1418.8px;top:378.3px;font-size:12.25px;transform:matrix(0.9638,0.00357,-0.002,1,0,0);color:#4e555a">g/dL</span>
<span class="t b" style="left:797.4px;top:747.6px;font-size:10.85px;transform:matrix(0.8930,0.00330,-0.002,1,0,0);color:#3a4145">Comments</span>
<span class="t" style="left:796.9px;top:777.1px;font-size:11.6px;transform:matrix(0.8745,0.00324,-0.002,1,0,0);color:#4e555a">PROMINENT BAND NOTED IN GAMMA REGION (M SPIKE)</span>
<span class="t" style="left:803.9px;top:819.3px;font-size:11.6px;transform:matrix(0.8499,0.00314,-0.002,1,0,0);color:#4e555a">CLINICAL CORRELATION</span>
</div>
</div>
<div class="lab" style="left:4px;top:761px;width:66px;height:60px"><span style="left:19.9px;top:2.8px;font-size:53.7px;transform:scaleX(.962);-webkit-text-stroke:.8px #fff">b</span></div>
</div>
</body>
</html>
